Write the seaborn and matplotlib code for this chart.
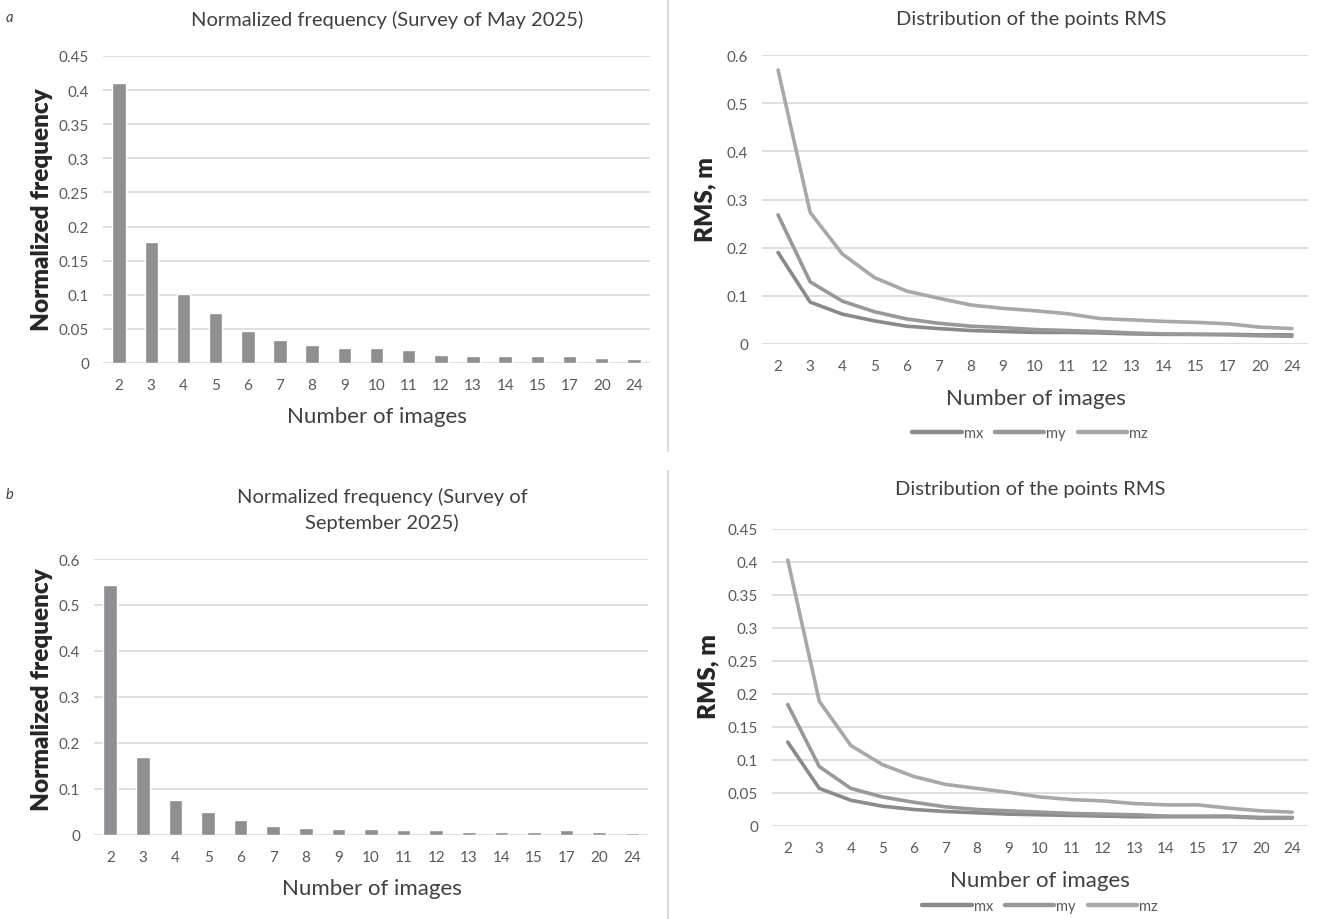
import pandas as pd
import matplotlib.pyplot as plt
import seaborn as sns
from matplotlib.lines import Line2D

# Data
images = ["2", "3", "4", "5", "6", "7", "8", "9", "10", "11", "12", "13", "14", "15", "17", "20", "24"]

may_freq = [0.410, 0.178, 0.101, 0.073, 0.047, 0.033, 0.026, 0.022, 0.022, 0.019,
            0.012, 0.010, 0.010, 0.010, 0.010, 0.008, 0.006]
sep_freq = [0.544, 0.170, 0.077, 0.050, 0.032, 0.020, 0.016, 0.013, 0.013, 0.010,
            0.010, 0.007, 0.007, 0.007, 0.010, 0.007, 0.004]

may_mx = [0.190, 0.087, 0.062, 0.048, 0.037, 0.032, 0.028, 0.026, 0.024, 0.024,
          0.023, 0.021, 0.020, 0.020, 0.020, 0.019, 0.019]
may_my = [0.268, 0.129, 0.089, 0.067, 0.052, 0.043, 0.037, 0.034, 0.030, 0.028,
          0.026, 0.023, 0.021, 0.020, 0.019, 0.017, 0.016]
may_mz = [0.569, 0.273, 0.187, 0.138, 0.110, 0.095, 0.081, 0.074, 0.069, 0.063,
          0.053, 0.050, 0.047, 0.045, 0.042, 0.035, 0.032]

sep_mx = [0.127, 0.057, 0.039, 0.030, 0.025, 0.022, 0.020, 0.018, 0.017, 0.016,
          0.015, 0.014, 0.014, 0.014, 0.014, 0.012, 0.012]
sep_my = [0.184, 0.090, 0.057, 0.044, 0.036, 0.029, 0.025, 0.023, 0.021, 0.019,
          0.018, 0.017, 0.015, 0.015, 0.015, 0.013, 0.013]
sep_mz = [0.403, 0.189, 0.122, 0.093, 0.075, 0.063, 0.057, 0.051, 0.044, 0.040,
          0.038, 0.034, 0.032, 0.032, 0.027, 0.023, 0.021]

series_names = ["mx", "my", "mz"]
line_colors = ["#8a8a8a", "#989898", "#a8a8a8"]
bar_color = "#8f8f92"
grid_color = "#d9d9d9"
tick_color = "#595959"

sns.set_theme(style="white")
plt.rcParams["font.family"] = ["Lato", "DejaVu Sans"]

W, H = 1320, 920
fig = plt.figure(figsize=(W / 100, H / 100), dpi=100)


def px_axes(left, top, right, bottom):
    return fig.add_axes([left / W, 1 - bottom / H, (right - left) / W, (bottom - top) / H])


def fx(x):
    return x / W


def fy(y):
    return 1 - y / H


def style_axes(ax, ymax, step):
    ticks = [round(i * step, 3) for i in range(int(round(ymax / step)) + 1)]
    ax.set_ylim(0, ymax)
    ax.set_yticks(ticks)
    ax.set_yticklabels([f"{t:g}" for t in ticks])
    ax.set_xlim(-0.5, len(images) - 0.5)
    ax.grid(axis="y", color=grid_color, lw=1.2)
    ax.set_axisbelow(True)
    for s in ["top", "right", "left", "bottom"]:
        ax.spines[s].set_visible(False)
    ax.tick_params(axis="both", length=0, labelsize=11, labelcolor=tick_color)
    ax.tick_params(axis="x", pad=11)
    ax.tick_params(axis="y", pad=10)


def bar_panel(ax, freq, ymax, step):
    df = pd.DataFrame({"images": images, "freq": freq})
    sns.barplot(data=df, x="images", y="freq", order=images, color=bar_color,
                width=0.42, saturation=1, ax=ax)
    style_axes(ax, ymax, step)


def line_panel(ax, mx, my, mz, ymax, step, legend_xy):
    df = pd.DataFrame({
        "images": images * 3,
        "rms": mx + my + mz,
        "series": [n for n in series_names for _ in images],
    })
    df["pos"] = df["images"].map({k: i for i, k in enumerate(images)})
    sns.lineplot(data=df, x="pos", y="rms", hue="series", hue_order=series_names,
                 palette=line_colors, lw=2.6, sort=False, ax=ax)
    style_axes(ax, ymax, step)
    ax.set_xticks(range(len(images)))
    ax.set_xticklabels(images)
    leg = ax.legend(loc="center", bbox_to_anchor=(fx(legend_xy[0]), fy(legend_xy[1])),
                    bbox_transform=fig.transFigure, ncol=3, frameon=False, fontsize=10.5,
                    handlelength=3.4, handletextpad=0.15, columnspacing=0.8,
                    labelcolor=tick_color)
    for h in leg.get_lines():
        h.set_linewidth(3.2)


def labels(ax, title, title_xy, xlabel_xy, ylabel, ylabel_xy):
    fig.text(fx(title_xy[0]), fy(title_xy[1]), title, ha="center", va="center",
             fontsize=14.5, color="#404040", linespacing=1.55)
    ax.set_xlabel("Number of images", fontsize=16, color="#404040")
    ax.xaxis.set_label_coords(fx(xlabel_xy[0]), fy(xlabel_xy[1]), transform=fig.transFigure)
    ax.xaxis.label.set_va("center")
    ax.set_ylabel(ylabel, fontsize=17.5, fontweight="heavy", color="#262626")
    ax.yaxis.set_label_coords(fx(ylabel_xy[0]), fy(ylabel_xy[1]), transform=fig.transFigure)
    ax.yaxis.label.set_va("center")


# a: May 2025
ax1 = px_axes(103, 57, 650, 364)
bar_panel(ax1, may_freq, 0.45, 0.05)
labels(ax1, "Normalized frequency (Survey of May 2025)", (387, 20), (377, 417),
       "Normalized frequency", (42, 210))

ax2 = px_axes(762, 56, 1308, 345)
line_panel(ax2, may_mx, may_my, may_mz, 0.6, 0.1, (1030, 434))
labels(ax2, "Distribution of the points RMS", (1031, 19), (1036, 399),
       "RMS, m", (705, 200))

# b: September 2025
ax3 = px_axes(94, 560, 648, 836)
bar_panel(ax3, sep_freq, 0.6, 0.1)
labels(ax3, "Normalized frequency (Survey of\nSeptember 2025)", (382, 510), (372, 889),
       "Normalized frequency", (42, 690))

ax4 = px_axes(772, 530, 1308, 827)
line_panel(ax4, sep_mx, sep_my, sep_mz, 0.45, 0.05, (1040, 907))
labels(ax4, "Distribution of the points RMS", (1030, 490), (1040, 881),
       "RMS, m", (708, 677))

# panel letters and divider
fig.text(fx(6), fy(18), "a", fontsize=10.5, style="italic", color="#404040", va="center")
fig.text(fx(6), fy(495), "b", fontsize=10.5, style="italic", color="#404040", va="center")
fig.add_artist(Line2D([fx(668)] * 2, [fy(0), fy(452)], transform=fig.transFigure,
                      color=grid_color, lw=1.5))
fig.add_artist(Line2D([fx(668)] * 2, [fy(472), fy(920)], transform=fig.transFigure,
                      color=grid_color, lw=1.5))

fig.savefig("out.png", dpi=100)
